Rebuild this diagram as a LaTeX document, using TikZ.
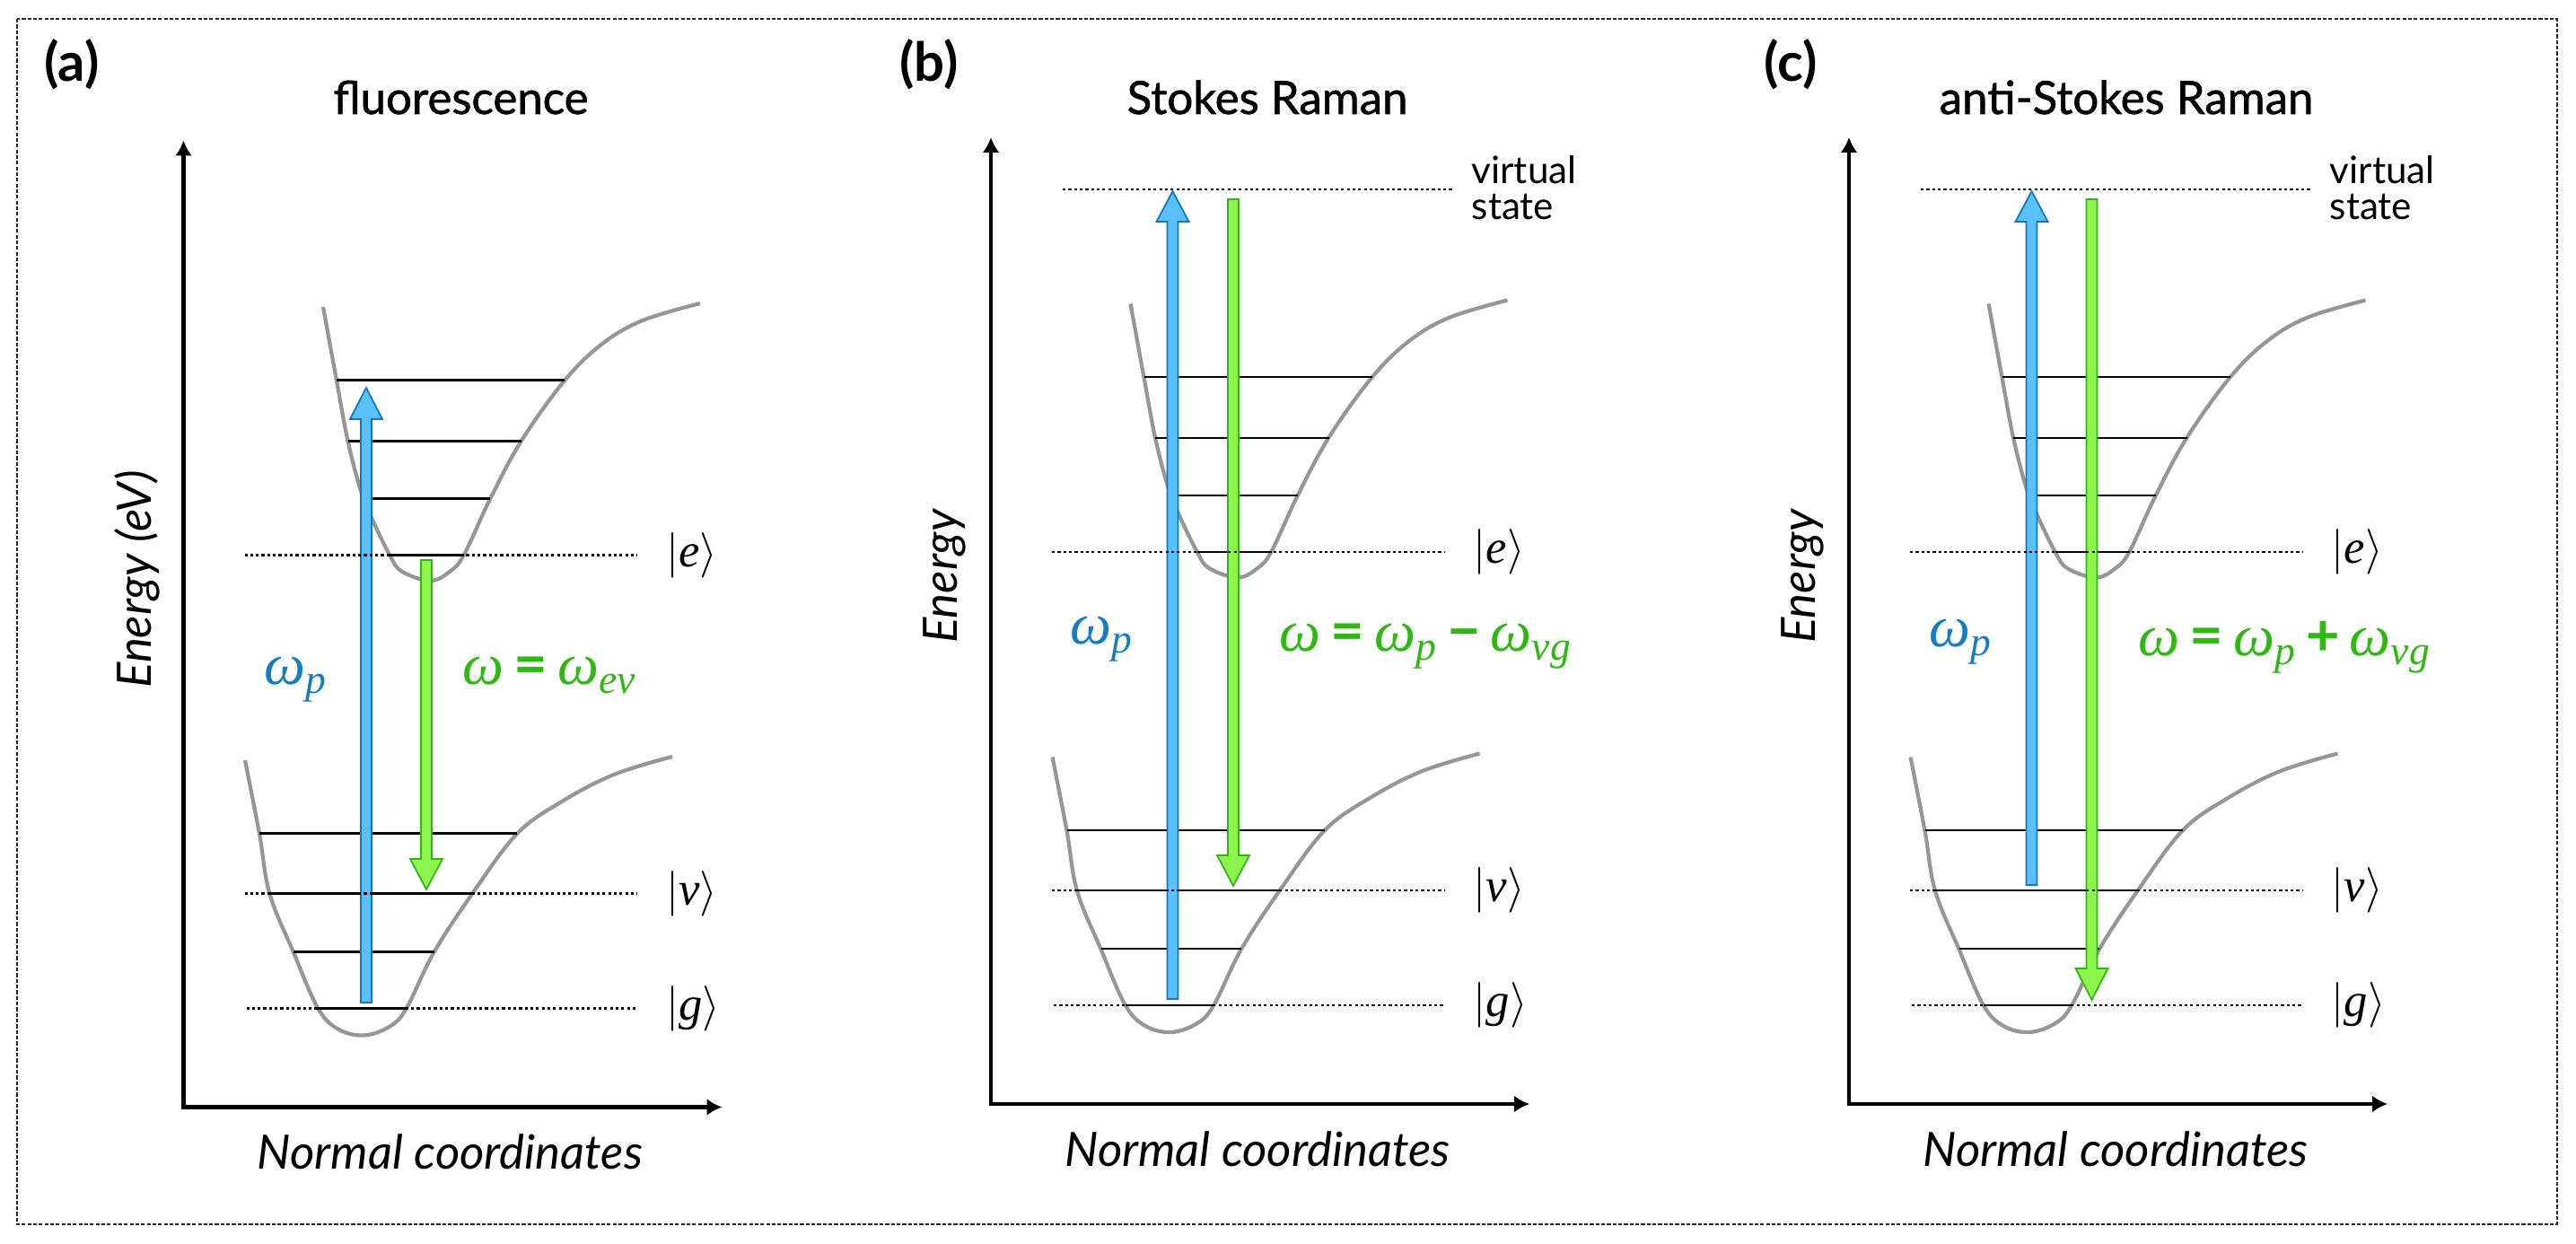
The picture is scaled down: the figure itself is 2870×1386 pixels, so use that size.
\documentclass[tikz,border=0pt]{standalone}
\usepackage{fontspec}
\setmainfont{Lato}
\newfontfamily\titlefont{Lato}[FakeBold=1.2]
\newfontfamily\serif{Liberation Serif}
\usetikzlibrary{arrows.meta}

\definecolor{pumpfill}{RGB}{90,192,250}
\definecolor{pumpline}{RGB}{20,118,190}
\definecolor{emitfill}{RGB}{140,245,75}
\definecolor{emitline}{RGB}{50,180,25}
\definecolor{pumptext}{RGB}{20,125,195}
\definecolor{emittext}{RGB}{45,185,15}
\definecolor{wellgray}{RGB}{150,150,150}

% omega with a subscript, Times-like
\newcommand{\w}[1]{{\serif\itshape ω\textsubscript{#1}}}
\newcommand{\op}[1]{\,\textbf{#1}\,}
\newcommand{\ket}[1]{$|\mbox{\serif\itshape #1}\rangle$}

% the two potential wells with their levels, in panel units
\newcommand{\wells}{%
  \draw[well] plot[smooth, tension=0.6] coordinates {(155.5,338.5) (170.5,420.5) (183,487.5) (197.5,543.5) (209.5,573.5) (229.5,614.5) (243,633) (275,643.5) (297,633) (312.5,614.5) (341.5,552.5) (376.5,487.5) (424.5,420.5) (466.5,379.5) (511.5,353.5) (575.5,334.5)};
  \draw[well] plot[smooth, tension=0.6] coordinates {(68.5,843.5) (84.5,925.5) (96,992.5) (122.5,1057.5) (149.5,1119.5) (172,1143) (201,1150) (230,1140) (248.5,1119.5) (279,1057.5) (321.5,992.5) (371.5,925.5) (421.5,889.5) (479.5,859.5) (544.5,839.5)};
  \draw[level] (170.5,420) -- (424.5,420);
  \draw[level] (183,488) -- (376.5,488);
  \draw[level] (202,552) -- (341.5,552);
  \draw[level] (229.5,615) -- (312.5,615);
  \draw[level] (84.5,925) -- (371.5,925);
  \draw[level] (96,992) -- (321.5,992);
  \draw[level] (122.5,1057) -- (279,1057);
  \draw[level] (149.5,1120) -- (248.5,1120);
  \node[ket] (e) at (537,615) {\ket{e}};
  \node[ket] (v) at (537,992) {\ket{v}};
  \node[ket] (g) at (537,1120) {\ket{g}};
}
% dotted guides for e, v and g
\newcommand{\guides}{%
  \draw[guide] (68,615) -- (505,615);
  \draw[guide] (68,992) -- (505,992);
  \draw[guide] (70,1120) -- (506,1120);
}
% axes with the energy label
\newcommand{\axes}[1]{%
  \draw[axes] (0,153) -- (0,1230) -- (600,1230);
  \node[axislabel, rotate=90] (energy) at (-52,642) {#1};
  \node[axislabel, anchor=base] (coord) at (297,1299) {Normal coordinates};
}
% block arrow: style, x, tail, head base, tip
\newcommand{\photon}[5]{%
  \draw[#1] (#2-6,#3) -- (#2-6,#4) -- (#2-18,#4) -- (#2,#5) -- (#2+18,#4) -- (#2+6,#4) -- (#2+6,#3) -- cycle;
}

\begin{document}
\begin{tikzpicture}[x=0.01cm, y=-0.01cm,
    well/.style={draw=wellgray, line width=1.2pt},
    level/.style={line width=0.65pt},
    guide/.style={line width=0.65pt, dash pattern=on 0.9pt off 0.9pt},
    axes/.style={line width=1.4pt, line join=miter, {Latex[length=0.17cm,width=0.19cm]}-{Latex[length=0.17cm,width=0.19cm]}},
    pump/.style={draw=pumpline, fill=pumpfill, line width=0.5pt},
    emit/.style={draw=emitline, fill=emitfill, line width=0.5pt},
    ket/.style={anchor=west, inner sep=0pt, font=\fontsize{15}{17}\selectfont},
    freq/.style={anchor=base west, inner sep=0pt, font=\fontsize{18.5}{21}\selectfont},
    axislabel/.style={inner sep=0pt, font=\fontsize{15}{17}\selectfont\itshape},
    title/.style={anchor=base, inner sep=0pt, font=\fontsize{14.5}{17}\titlefont},
    letter/.style={inner sep=0pt, font=\fontsize{17}{19}\selectfont\bfseries},
    virtual/.style={anchor=west, inner sep=0pt, align=left, font=\fontsize{12}{11.2}\selectfont}]
    \useasboundingbox (0,0) rectangle (2870,1386);
    \draw[line width=0.4pt, black!85, dash pattern=on 1.2pt off 0.6pt] (19,21) rectangle (2849,1364);

    % titles and panel letters
    \node[letter] (la) at (80,72) {(a)};
    \node[letter] (lb) at (1035,72) {(b)};
    \node[letter] (lc) at (1995,72) {(c)};
    \node[title] (ta) at (513.5,127) {fluorescence};
    \node[title] (tb) at (1412,127) {Stokes Raman};
    \node[title] (tc) at (2369,127) {anti-Stokes Raman};

    % (a) fluorescence
    \begin{scope}[shift={(204.5,3.5)}, name prefix=a-]
        \axes{Energy (eV)}
        \wells
        \photon{pump}{203.5}{1113.5}{463.5}{428.5}
        \photon{emit}{270.5}{620.5}{953.5}{987.5}
        \guides
        \node[freq, text=pumptext] (wp) at (89.5,759.5) {\w{p}};
        \node[freq, text=emittext] (w) at (310.5,759.5) {{\serif\itshape ω}\op{=}\w{ev}};
    \end{scope}

    % (b) Stokes Raman
    \begin{scope}[shift={(1104,0)}, name prefix=b-]
        \axes{Energy}
        \wells
        \photon{pump}{202.5}{1113}{247}{213}
        \photon{emit}{270}{222}{953}{987}
        \guides
        \draw[guide] (80,211) -- (516,211);
        \node[virtual] (vs) at (535,209) {virtual\\state};
        \node[freq, text=pumptext] (wp) at (88,718) {\w{p}};
        \node[freq, text=emittext] (w) at (321,726) {{\serif\itshape ω}\op{=}\w{p}\op{−}\w{vg}};
    \end{scope}

    % (c) anti-Stokes Raman
    \begin{scope}[shift={(2060,0)}, name prefix=c-]
        \axes{Energy}
        \wells
        \photon{pump}{203.5}{986}{247}{213}
        \photon{emit}{270.5}{222}{1079}{1114}
        \guides
        \draw[guide] (80,211) -- (516,211);
        \node[virtual] (vs) at (535,209) {virtual\\state};
        \node[freq, text=pumptext] (wp) at (89,721) {\w{p}};
        \node[freq, text=emittext] (w) at (322,731) {{\serif\itshape ω}\op{=}\w{p}\op{+}\w{vg}};
    \end{scope}
\end{tikzpicture}
\end{document}
